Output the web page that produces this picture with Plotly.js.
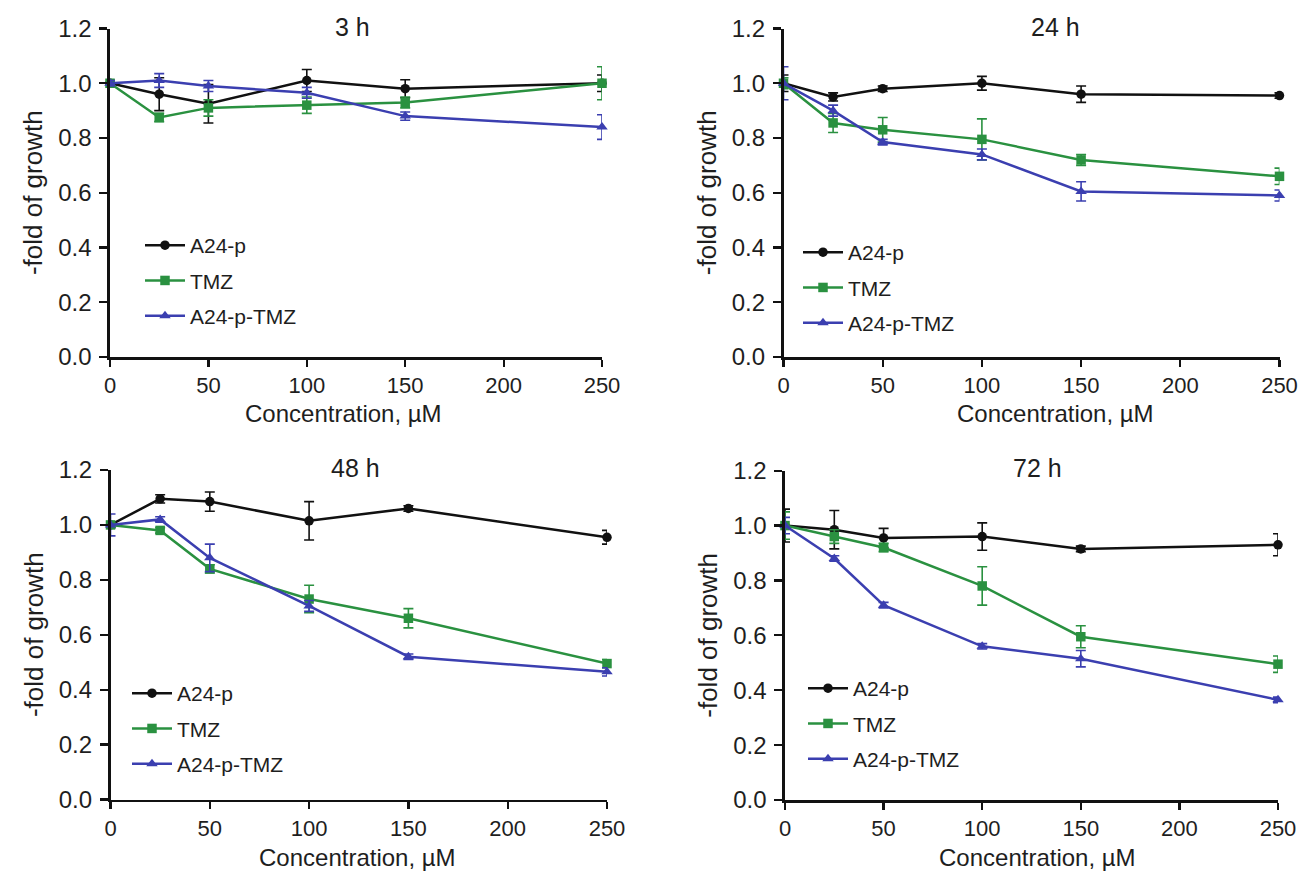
<!DOCTYPE html>
<html>
<head>
<meta charset="utf-8">
<script src="https://cdn.plot.ly/plotly-3.0.1.min.js"></script>
<style>html,body{margin:0;padding:0;background:#fff;}#chart{width:1301px;height:872px;}</style>
</head>
<body>
<div id="chart"></div>
<script>
// ---- data ----
const concentration = [0, 25, 50, 100, 150, 250];
const seriesNames = ["A24-p", "TMZ", "A24-p-TMZ"];
const panelTitles = ["3 h", "24 h", "48 h", "72 h"];
const yTickLabels = ["0.0", "0.2", "0.4", "0.6", "0.8", "1.0", "1.2"];
const yTickValues = [0, 0.2, 0.4, 0.6, 0.8, 1.0, 1.2];
const xTickValues = [0, 50, 100, 150, 200, 250];

// 3 h
const a24p_3h      = [1.0, 0.96, 0.925, 1.01, 0.98, 1.0];
const a24p_3h_err  = [0.01, 0.06, 0.07, 0.04, 0.033, 0.03];
const tmz_3h       = [1.0, 0.875, 0.91, 0.92, 0.93, 1.0];
const tmz_3h_err   = [0.01, 0.015, 0.03, 0.03, 0.02, 0.06];
const combo_3h     = [1.0, 1.01, 0.99, 0.965, 0.88, 0.84];
const combo_3h_err = [0.01, 0.025, 0.02, 0.02, 0.015, 0.045];
// 24 h
const a24p_24h      = [1.0, 0.95, 0.98, 1.0, 0.96, 0.955];
const a24p_24h_err  = [0.03, 0.015, 0.01, 0.025, 0.03, 0.01];
const tmz_24h       = [1.0, 0.855, 0.83, 0.795, 0.72, 0.66];
const tmz_24h_err   = [0.02, 0.035, 0.045, 0.075, 0.02, 0.03];
const combo_24h     = [1.0, 0.9, 0.785, 0.74, 0.605, 0.59];
const combo_24h_err = [0.06, 0.02, 0.01, 0.02, 0.035, 0.02];
// 48 h
const a24p_48h      = [1.0, 1.095, 1.085, 1.015, 1.06, 0.955];
const a24p_48h_err  = [0.01, 0.015, 0.035, 0.07, 0.01, 0.025];
const tmz_48h       = [1.0, 0.98, 0.84, 0.73, 0.66, 0.495];
const tmz_48h_err   = [0.01, 0.01, 0.015, 0.05, 0.035, 0.015];
const combo_48h     = [1.0, 1.02, 0.88, 0.705, 0.52, 0.465];
const combo_48h_err = [0.04, 0.01, 0.05, 0.02, 0.01, 0.015];
// 72 h
const a24p_72h      = [1.0, 0.985, 0.955, 0.96, 0.915, 0.93];
const a24p_72h_err  = [0.06, 0.07, 0.035, 0.05, 0.01, 0.04];
const tmz_72h       = [1.0, 0.96, 0.92, 0.78, 0.595, 0.495];
const tmz_72h_err   = [0.05, 0.025, 0.015, 0.07, 0.04, 0.03];
const combo_72h     = [1.0, 0.88, 0.71, 0.56, 0.515, 0.365];
const combo_72h_err = [0.03, 0.01, 0.01, 0.01, 0.03, 0.01];

// ---- styling ----
const W = 1301, H = 872;
const colors = ["#111111", "#2a9140", "#3b3fb0"];
const symbols = ["circle", "square", "triangle-up"];
const FONT = "Liberation Sans, Arial, Helvetica, sans-serif";
const TXT = "#1e1e1e";

const panels = [
  {vals: [[a24p_3h,a24p_3h_err],[tmz_3h,tmz_3h_err],[combo_3h,combo_3h_err]],
   xpx: [110, 602], ypx: [28.5, 357], title: [352, 27], xt: [344, 413], legend: [140, 225]},
  {vals: [[a24p_24h,a24p_24h_err],[tmz_24h,tmz_24h_err],[combo_24h,combo_24h_err]],
   xpx: [783.5, 1279.5], ypx: [28.5, 357], title: [1055, 27], xt: [1055, 413], legend: [798, 232]},
  {vals: [[a24p_48h,a24p_48h_err],[tmz_48h,tmz_48h_err],[combo_48h,combo_48h_err]],
   xpx: [110.5, 607], ypx: [470, 799.5], title: [355, 468], xt: [357, 857], legend: [127, 673]},
  {vals: [[a24p_72h,a24p_72h_err],[tmz_72h,tmz_72h_err],[combo_72h,combo_72h_err]],
   xpx: [785, 1278], ypx: [470.7, 800], title: [1037, 468], xt: [1037, 857], legend: [803, 668]}
];

const traces = [];
const layout = {
  width: W, height: H,
  margin: {l: 0, r: 0, t: 0, b: 0},
  paper_bgcolor: "#ffffff", plot_bgcolor: "#ffffff",
  font: {family: FONT, size: 22, color: TXT},
  showlegend: true,
  annotations: []
};

panels.forEach((p, i) => {
  const k = i === 0 ? "" : String(i + 1);
  const xa = "x" + k, ya = "y" + k;
  const legName = i === 0 ? "legend" : "legend" + (i + 1);
  p.vals.forEach((sv, s) => {
    traces.push({
      type: "scatter", mode: "lines+markers",
      x: concentration, y: sv[0],
      name: seriesNames[s],
      xaxis: xa, yaxis: ya,
      legend: legName, legendgroup: "p" + i + "s" + s,
      cliponaxis: false,
      line: {color: colors[s], width: 2.5},
      marker: {color: colors[s], symbol: symbols[s], size: s === 2 ? 10 : 9.5},
      error_y: {type: "data", array: sv[1], visible: true, color: colors[s], thickness: 1.6, width: 5}
    });
  });
  const xd = [p.xpx[0] / W, p.xpx[1] / W];
  const yd = [1 - p.ypx[1] / H, 1 - p.ypx[0] / H];
  layout["xaxis" + k] = {
    domain: xd, anchor: ya, range: [0, 250],
    tickvals: xTickValues, ticks: "outside", ticklen: 7, tickwidth: 2.2, tickcolor: "#111",
    showline: true, linecolor: "#111", linewidth: 2.6, showgrid: false, zeroline: false,
    tickfont: {size: 22, family: FONT, color: TXT}, fixedrange: true
  };
  layout["yaxis" + k] = {
    domain: yd, anchor: xa, range: [0, 1.2],
    tickvals: yTickValues, ticktext: yTickLabels, ticks: "outside", ticklen: 8, tickwidth: 2.2, tickcolor: "#111",
    showline: true, linecolor: "#111", linewidth: 2.6, showgrid: false, zeroline: false,
    ticklabelstandoff: 3,
    tickfont: {size: 24, family: FONT, color: TXT}, fixedrange: true,
    title: {text: "-fold of growth", font: {size: 26, family: FONT, color: TXT}, standoff: 8}
  };
  layout[legName] = {
    x: p.legend[0] / W, y: 1 - p.legend[1] / H, xanchor: "left", yanchor: "top",
    bgcolor: "rgba(0,0,0,0)", borderwidth: 0,
    font: {size: 21, family: FONT, color: TXT},
    traceorder: "grouped", tracegroupgap: 5, itemwidth: 40
  };
  layout.annotations.push({
    text: panelTitles[i], xref: "paper", yref: "paper",
    x: p.title[0] / W, y: 1 - p.title[1] / H, xanchor: "center", yanchor: "middle",
    showarrow: false, font: {size: 25, family: FONT, color: TXT}
  });
  layout.annotations.push({
    text: "Concentration, µM", xref: "paper", yref: "paper",
    x: p.xt[0] / W, y: 1 - p.xt[1] / H, xanchor: "center", yanchor: "middle",
    showarrow: false, font: {size: 24, family: FONT, color: TXT}
  });
});

Plotly.newPlot("chart", traces, layout, {displayModeBar: false, staticPlot: true});
</script>
</body>
</html>
